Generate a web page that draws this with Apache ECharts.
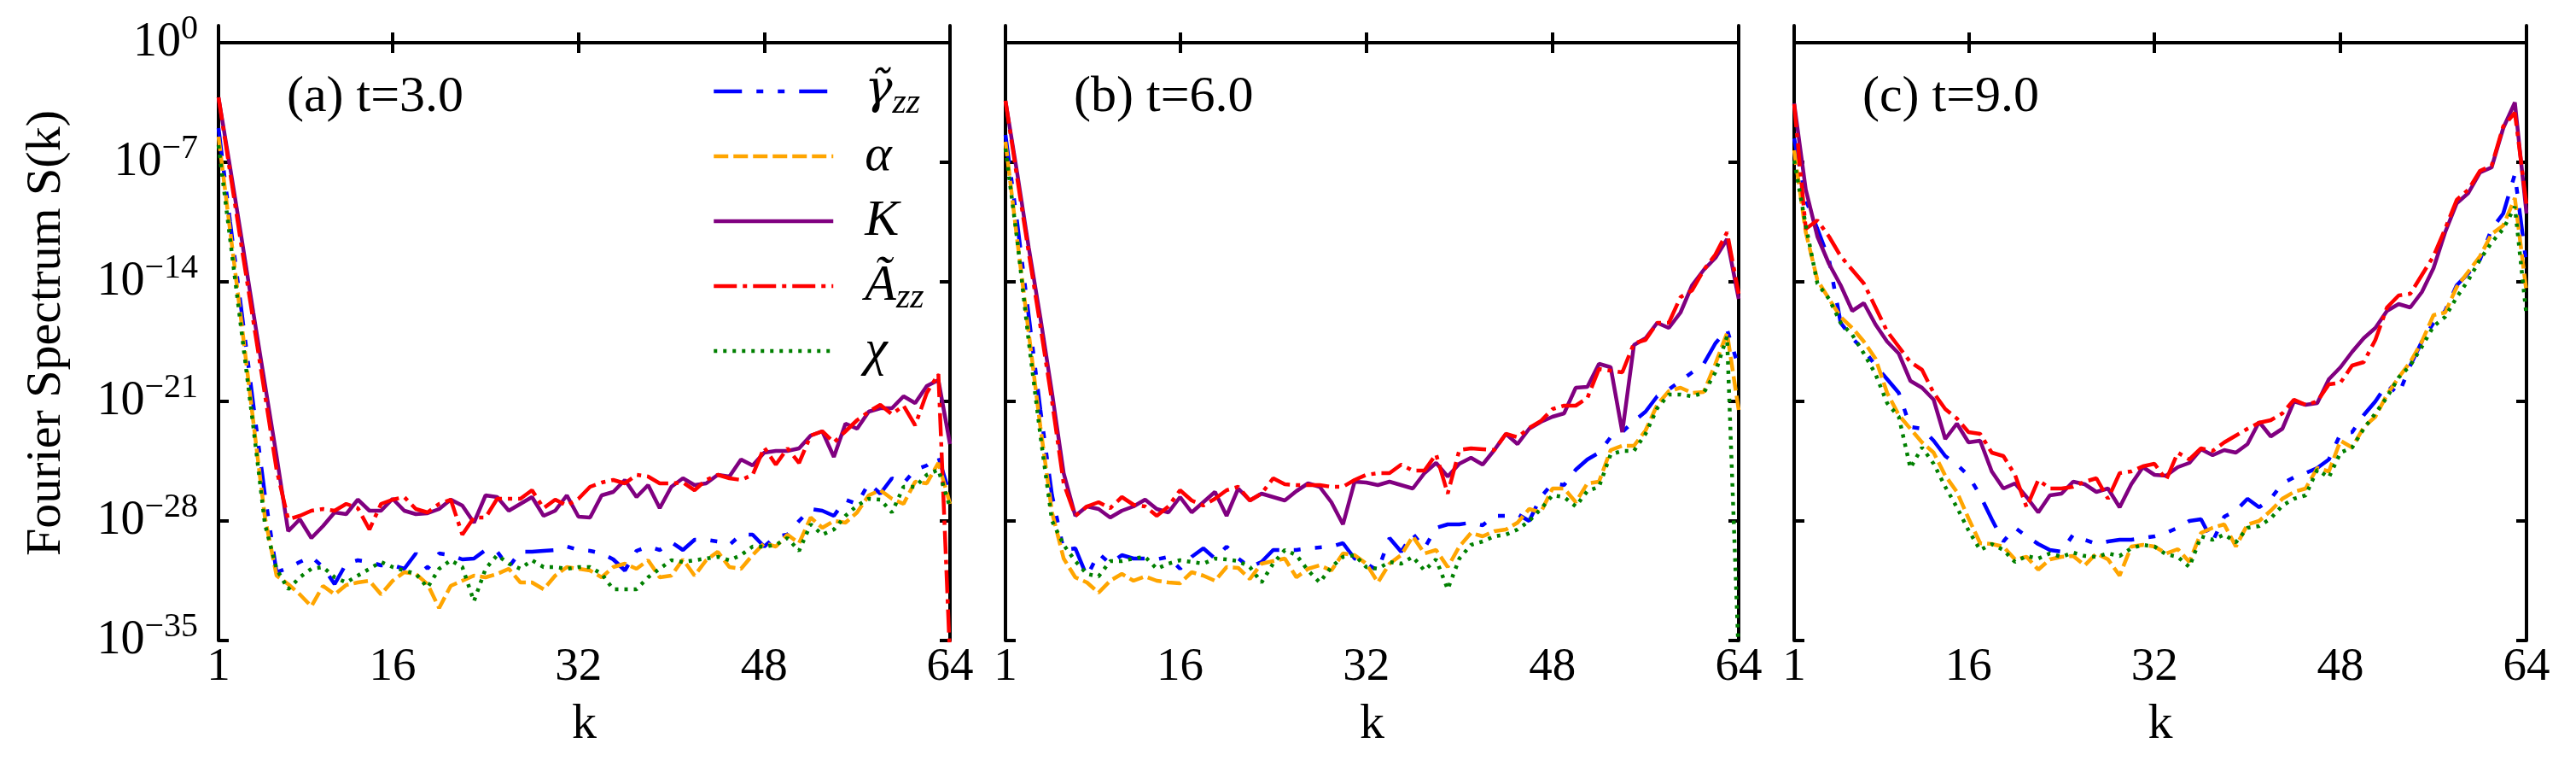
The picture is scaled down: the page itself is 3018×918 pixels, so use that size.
<!DOCTYPE html>
<html>
<head>
<meta charset="utf-8">
<script src="https://cdn.jsdelivr.net/npm/echarts@6/dist/echarts.min.js"></script>
<style>
html, body { margin: 0; padding: 0; background: #fff; }
#chart { width: 3018px; height: 918px; }
</style>
</head>
<body>
<div id="chart"></div>
<script>
(function(){

// tick positions
var kTicks = [1, 16, 32, 48, 64];
var kTopTicks = [16, 32, 48];
var decadeTicks = [-35, -28, -21, -14, -7, 0];

var panelTitles = ['(a) t=3.0', '(b) t=6.0', '(c) t=9.0'];
var seriesNames = ['gamma', 'alpha', 'K', 'A', 'chi'];

// log10 S(k) for k = 1..64
// (a) t=3.0
var gammaA = [-5.0,-10.5,-15.8,-21.2,-26.5,-31.0,-30.75,-30.4,-30.1,-30.7,-31.7,-30.5,-30.3,-30.4,-30.6,-30.6,-30.8,-29.9,-30.8,-29.9,-30.0,-30.25,-30.2,-29.7,-29.8,-30.7,-29.8,-29.8,-29.75,-29.7,-29.5,-29.7,-29.75,-29.9,-30.25,-30.9,-29.75,-29.5,-29.7,-29.25,-29.7,-29.1,-29.1,-29.2,-29.4,-28.8,-28.8,-29.5,-28.9,-28.8,-28.0,-27.3,-27.4,-27.7,-26.75,-27.0,-25.8,-26.4,-25.5,-25.8,-25.0,-24.75,-24.25,-26.5];
var alphaA = [-5.5,-11.0,-16.5,-22.2,-27.8,-31.2,-31.7,-32.3,-33.0,-31.8,-32.3,-31.75,-31.6,-31.5,-32.3,-31.5,-31.0,-31.1,-31.7,-33.1,-31.8,-31.5,-31.2,-31.3,-31.1,-30.8,-31.6,-31.6,-32.0,-31.2,-30.7,-30.8,-30.9,-31.3,-30.7,-30.5,-30.8,-30.3,-31.3,-31.2,-30.25,-31.2,-30.3,-29.8,-30.7,-30.8,-30.0,-29.3,-29.5,-28.8,-29.3,-27.8,-28.4,-28.0,-28.1,-27.5,-26.5,-26.2,-26.7,-27.0,-25.7,-25.8,-24.6,-27.0];
var kA = [-3.2,-7.3,-11.5,-15.8,-20.0,-24.2,-28.6,-27.9,-29.0,-28.3,-27.5,-27.6,-26.75,-27.4,-27.4,-26.7,-27.4,-27.6,-27.55,-27.3,-26.75,-27.1,-28.1,-26.5,-26.6,-27.4,-27.0,-26.6,-27.7,-27.4,-26.5,-27.75,-27.8,-26.5,-26.3,-25.6,-26.6,-25.9,-27.25,-26.0,-25.5,-25.9,-25.8,-25.3,-25.4,-24.4,-24.75,-24.0,-23.9,-23.9,-23.75,-23.0,-22.75,-24.25,-22.3,-22.6,-21.6,-21.4,-21.4,-20.7,-21.1,-20.1,-19.75,-23.5];
var aA = [-3.2,-7.6,-12.0,-16.3,-20.6,-25.0,-27.9,-27.7,-27.4,-27.3,-27.4,-27.0,-27.25,-28.5,-27.0,-26.75,-26.6,-27.3,-27.5,-27.0,-26.75,-28.8,-27.8,-27.8,-26.7,-26.7,-26.7,-26.2,-27.25,-26.75,-27.1,-26.7,-26.0,-25.75,-25.6,-25.8,-25.3,-25.4,-25.8,-25.8,-25.75,-26.2,-25.6,-25.3,-25.5,-25.6,-25.3,-23.7,-24.7,-23.75,-24.6,-23.0,-22.75,-23.4,-22.75,-22.1,-21.6,-21.2,-21.75,-21.25,-22.4,-20.5,-19.4,-36];
var chiA = [-6.0,-11.5,-17.0,-22.5,-28.2,-30.8,-32.0,-31.3,-30.8,-30.7,-31.3,-31.6,-31.2,-30.8,-30.4,-30.7,-30.9,-31.1,-31.9,-30.8,-30.3,-30.7,-32.7,-30.8,-30.0,-30.5,-30.8,-30.3,-30.7,-30.7,-30.8,-30.7,-30.7,-31.1,-32.0,-32.0,-32.0,-31.3,-30.8,-30.3,-30.4,-30.3,-30.2,-30.1,-30.3,-30.0,-29.5,-29.5,-29.4,-29.0,-29.75,-28.2,-28.8,-28.5,-27.7,-27.1,-26.7,-26.75,-27.5,-26.0,-26.0,-25.3,-25.0,-27.2];

// (b) t=6.0
var gammaB = [-5.4,-10.5,-16.0,-21.5,-26.5,-29.7,-29.6,-31.25,-29.9,-30.5,-30.0,-30.2,-30.2,-30.25,-30.1,-30.8,-30.1,-29.6,-30.2,-29.5,-30.2,-30.7,-30.4,-29.7,-29.7,-29.7,-29.6,-29.55,-29.5,-29.3,-30.2,-30.5,-30.9,-29.0,-29.8,-28.75,-29.6,-28.4,-28.2,-28.2,-28.1,-28.25,-27.7,-27.7,-27.6,-28.0,-26.6,-25.8,-25.9,-25.0,-24.4,-24.0,-23.1,-22.8,-22.15,-21.6,-20.7,-20.3,-19.8,-19.3,-18.8,-17.6,-16.8,-19.0];
var alphaB = [-5.8,-11.5,-17.0,-22.5,-27.5,-30.2,-31.3,-31.6,-32.2,-31.5,-31.1,-31.5,-31.25,-31.5,-31.6,-31.65,-31.0,-31.2,-31.5,-30.7,-30.75,-31.4,-30.5,-30.35,-30.2,-31.3,-30.8,-30.6,-30.9,-29.9,-30.0,-30.5,-31.6,-30.5,-30.0,-28.9,-29.9,-29.7,-30.7,-29.5,-28.7,-28.9,-28.6,-28.5,-28.1,-27.3,-27.5,-26.1,-26.1,-26.9,-25.8,-25.7,-23.85,-23.6,-23.6,-22.7,-21.2,-20.4,-20.2,-20.5,-20.45,-18.8,-17.0,-21.5];
var kB = [-3.4,-7.6,-12.0,-16.1,-20.5,-25.2,-27.7,-27.15,-27.3,-27.8,-27.4,-27.15,-26.75,-27.3,-27.5,-26.6,-27.5,-26.9,-26.3,-27.7,-26.1,-26.8,-26.4,-26.6,-26.8,-26.25,-25.8,-26.0,-26.9,-28.2,-25.7,-25.75,-25.9,-25.7,-25.9,-26.1,-25.2,-24.6,-25.4,-24.65,-24.3,-24.7,-23.85,-22.9,-23.5,-22.6,-22.2,-21.9,-21.7,-20.2,-20.15,-18.8,-19.0,-22.8,-17.7,-17.3,-16.4,-16.7,-15.8,-14.2,-13.3,-12.6,-11.5,-15.0];
var aB = [-3.4,-7.9,-12.3,-16.6,-21.0,-25.8,-27.7,-27.15,-26.9,-27.25,-26.6,-27.05,-27.15,-27.7,-27.15,-26.2,-26.8,-27.1,-26.7,-26.2,-26.0,-26.8,-26.4,-25.5,-25.85,-25.9,-25.9,-25.9,-26.0,-26.0,-25.6,-25.3,-25.2,-25.2,-24.7,-25.05,-25.05,-24.1,-26.4,-23.85,-23.75,-23.8,-23.85,-22.9,-23.1,-22.55,-22.15,-21.45,-21.25,-21.25,-20.8,-19.1,-19.2,-19.3,-17.6,-17.4,-16.4,-16.4,-14.9,-14.5,-13.3,-12.4,-11.1,-14.7];
var chiB = [-6.2,-11.5,-17.5,-23.0,-28.0,-29.4,-30.35,-31.1,-31.25,-30.35,-30.35,-30.2,-30.1,-30.8,-30.5,-30.3,-30.4,-30.5,-30.2,-30.25,-30.35,-30.7,-31.6,-30.5,-29.7,-30.0,-30.9,-31.6,-30.7,-30.1,-30.0,-30.7,-30.8,-30.4,-30.5,-30.1,-30.9,-30.25,-32.0,-30.2,-29.4,-29.2,-28.9,-28.8,-28.5,-28.0,-27.3,-26.5,-26.6,-27.15,-26.25,-26.0,-24.1,-23.9,-23.9,-22.9,-21.4,-20.6,-20.6,-20.7,-20.5,-19.3,-17.2,-36];

// (c) t=9.0
var gammaC = [-5.6,-9.2,-10.9,-12.7,-16.4,-17.3,-18.0,-18.9,-19.7,-20.5,-22.5,-22.6,-23.3,-24.2,-24.7,-25.35,-26.5,-27.9,-29.2,-28.4,-28.9,-29.35,-29.7,-29.8,-28.8,-29.1,-29.35,-29.2,-29.1,-29.1,-29.0,-28.9,-28.7,-28.4,-28.0,-27.9,-29.2,-27.75,-27.4,-26.7,-27.2,-26.7,-25.8,-25.45,-25.2,-24.9,-24.4,-22.9,-22.8,-21.8,-21.0,-20.0,-20.6,-18.9,-17.5,-16.4,-15.7,-14.2,-13.5,-12.7,-10.9,-10.0,-7.7,-13.0];
var alphaC = [-6.3,-11.1,-13.9,-15.0,-16.05,-16.7,-17.5,-18.5,-20.5,-21.8,-22.6,-23.4,-24.0,-25.35,-26.3,-27.85,-29.3,-29.35,-29.5,-30.25,-30.1,-30.85,-30.25,-30.1,-30.05,-30.6,-29.9,-30.25,-31.2,-29.5,-29.4,-29.5,-29.9,-29.65,-30.4,-28.7,-28.4,-28.2,-29.5,-28.2,-28.0,-27.4,-26.7,-26.3,-26.1,-24.9,-25.1,-23.3,-23.7,-22.5,-21.9,-20.6,-19.6,-18.7,-17.5,-15.95,-15.8,-14.3,-13.4,-12.5,-11.2,-10.7,-9.1,-14.6];
var kC = [-3.55,-8.6,-11.35,-12.95,-14.2,-15.7,-15.25,-16.5,-17.5,-18.2,-19.8,-20.2,-20.9,-23.2,-22.3,-23.4,-23.3,-25.1,-26.1,-25.8,-26.6,-27.5,-26.5,-26.4,-25.7,-25.85,-26.3,-26.1,-27.2,-25.85,-24.85,-25.3,-25.35,-24.85,-24.6,-23.8,-24.15,-23.85,-24.0,-23.5,-22.2,-23.05,-22.6,-21.0,-21.2,-21.1,-19.7,-19.0,-18.1,-17.3,-16.7,-15.7,-15.3,-15.5,-14.6,-13.2,-11.1,-9.4,-8.8,-7.6,-7.3,-5.0,-3.5,-10.0];
var aC = [-3.6,-10.9,-10.4,-11.35,-12.5,-13.3,-14.1,-15.5,-16.9,-17.8,-18.7,-19.15,-20.5,-21.45,-22.0,-22.8,-22.9,-24.0,-24.2,-25.3,-27.2,-25.6,-26.1,-26.1,-26.0,-25.7,-25.5,-26.7,-25.2,-25.1,-24.8,-24.65,-25.6,-24.0,-24.4,-23.75,-23.9,-23.4,-23.0,-22.6,-22.25,-22.1,-21.7,-20.9,-21.2,-21.0,-20.0,-19.9,-18.9,-18.7,-17.4,-15.5,-14.8,-14.7,-13.6,-12.5,-10.9,-9.2,-8.6,-7.5,-7.2,-4.9,-4.1,-9.5];
var chiC = [-6.9,-10.7,-14.1,-15.0,-16.4,-17.1,-18.2,-19.4,-21.1,-21.9,-24.9,-23.7,-24.65,-26.0,-27.2,-28.55,-29.7,-29.35,-29.7,-30.4,-30.05,-30.2,-29.9,-30.1,-29.85,-30.05,-30.1,-29.9,-30.05,-29.6,-29.4,-29.5,-29.95,-30.1,-30.7,-28.9,-29.1,-28.8,-29.25,-28.4,-28.3,-27.85,-27.1,-26.7,-26.5,-25.0,-25.45,-24.0,-23.7,-22.6,-21.7,-20.75,-19.6,-18.9,-17.8,-16.6,-16.05,-14.9,-13.9,-12.7,-11.7,-10.9,-9.6,-16.0];

var panelData = [
	[gammaA, alphaA, kA, aA, chiA],
	[gammaB, alphaB, kB, aB, chiB],
	[gammaC, alphaC, kC, aC, chiC]
];

var FONT = 'Liberation Serif';
var LW = 4.5;
var colors = ['#0000ff', '#ffa500', '#800080', '#ff0000', '#008000'];
var dashes = [[33, 17, 8, 17, 8, 17], [17, 6], 'solid', [27, 7, 5, 7], [4, 7]];
var legendLabels = {
	gamma: '{g|\u03b3\u0303}{s|zz}',
	alpha: '{m|\u03b1}',
	K: '{m|K}',
	A: '{m|\u00c3}{s|zz}',
	chi: '{m|\u03c7}'
};

var grids = [
	{left: 256, top: 30, width: 857, height: 720},
	{left: 1178, top: 30, width: 859, height: 720},
	{left: 2102, top: 30, width: 858, height: 720}
];

function tickStyle(values) {
	return {show: true, inside: true, length: 12, customValues: values, lineStyle: {color: '#000', width: 4}};
}

function decadeLabel(v) {
	return '{b|10}{s|' + (v === 0 ? '0' : '\u2212' + (-v)) + '}';
}

var xAxes = [], yAxes = [], series = [], titles = [];

grids.forEach(function(g, i){
	xAxes.push({
		type: 'value', gridIndex: i, position: 'bottom', min: 1, max: 64,
		name: 'k', nameLocation: 'middle', nameGap: 70,
		nameTextStyle: {fontFamily: FONT, fontSize: 58, color: '#000'},
		axisLine: {lineStyle: {color: '#000', width: 4}},
		axisTick: tickStyle(kTicks),
		axisLabel: {customValues: kTicks, margin: 4, fontFamily: FONT, fontSize: 55, color: '#000'},
		splitLine: {show: false}
	});
	xAxes.push({
		type: 'value', gridIndex: i, position: 'top', min: 1, max: 64,
		axisLine: {lineStyle: {color: '#000', width: 4}},
		axisTick: tickStyle(kTopTicks),
		axisLabel: {show: false},
		splitLine: {show: false}
	});
	yAxes.push({
		type: 'value', gridIndex: i, position: 'left', min: -35, max: 1,
		name: i === 0 ? 'Fourier Spectrum S(k)' : '',
		nameLocation: 'middle', nameGap: 172,
		nameTextStyle: {fontFamily: FONT, fontSize: 58, color: '#000'},
		axisLine: {lineStyle: {color: '#000', width: 4}},
		axisTick: tickStyle(decadeTicks),
		axisLabel: {
			show: i === 0, customValues: decadeTicks, margin: 24,
			formatter: decadeLabel,
			rich: {
				b: {fontFamily: FONT, fontSize: 56, lineHeight: 72, verticalAlign: 'middle', color: '#000'},
				s: {fontFamily: FONT, fontSize: 40, lineHeight: 39, verticalAlign: 'top', color: '#000'}
			}
		},
		splitLine: {show: false}
	});
	yAxes.push({
		type: 'value', gridIndex: i, position: 'right', min: -35, max: 1,
		axisLine: {lineStyle: {color: '#000', width: 4}},
		axisTick: tickStyle(decadeTicks),
		axisLabel: {show: false},
		splitLine: {show: false}
	});
	titles.push({
		text: panelTitles[i], left: g.left + 80, top: 84, padding: 0,
		textStyle: {fontFamily: FONT, fontSize: 60, fontWeight: 'normal', color: '#000'}
	});
	panelData[i].forEach(function(vals, j){
		series.push({
			name: seriesNames[j], type: 'line',
			xAxisIndex: 2 * i, yAxisIndex: 2 * i,
			data: vals.map(function(v, n){ return [n + 1, v]; }),
			showSymbol: false, symbol: 'none', animation: false,
			lineStyle: {color: colors[j], width: LW, type: dashes[j]},
			itemStyle: {color: colors[j]}
		});
	});
});

var legendData = seriesNames.map(function(n, j){
	return {name: n, lineStyle: {color: colors[j], width: LW, type: dashes[j], opacity: 1}};
});

var chart = echarts.init(document.getElementById('chart'));
chart.setOption({
	backgroundColor: '#fff',
	animation: false,
	textStyle: {fontFamily: FONT},
	title: titles,
	grid: grids,
	xAxis: xAxes,
	yAxis: yAxes,
	legend: {
		orient: 'vertical', left: 834, top: 72, padding: 0,
		itemWidth: 140, itemHeight: 20, itemGap: 6,
		selectedMode: false,
		itemStyle: {opacity: 0},
		data: legendData,
		formatter: function(name){ return legendLabels[name]; },
		textStyle: {
			fontFamily: FONT, fontSize: 58, lineHeight: 70, padding: [0, 0, 0, 32], color: '#000',
			rich: {
				m: {fontFamily: FONT, fontSize: 60, fontStyle: 'italic', lineHeight: 70, verticalAlign: 'middle', color: '#000'},
				g: {fontFamily: 'DejaVu Serif', fontSize: 54, fontStyle: 'italic', lineHeight: 70, verticalAlign: 'middle', color: '#000'},
				s: {fontFamily: FONT, fontSize: 42, fontStyle: 'italic', lineHeight: 43, verticalAlign: 'bottom', color: '#000'}
			}
		}
	},
	series: series
});

})();
</script>
</body>
</html>
